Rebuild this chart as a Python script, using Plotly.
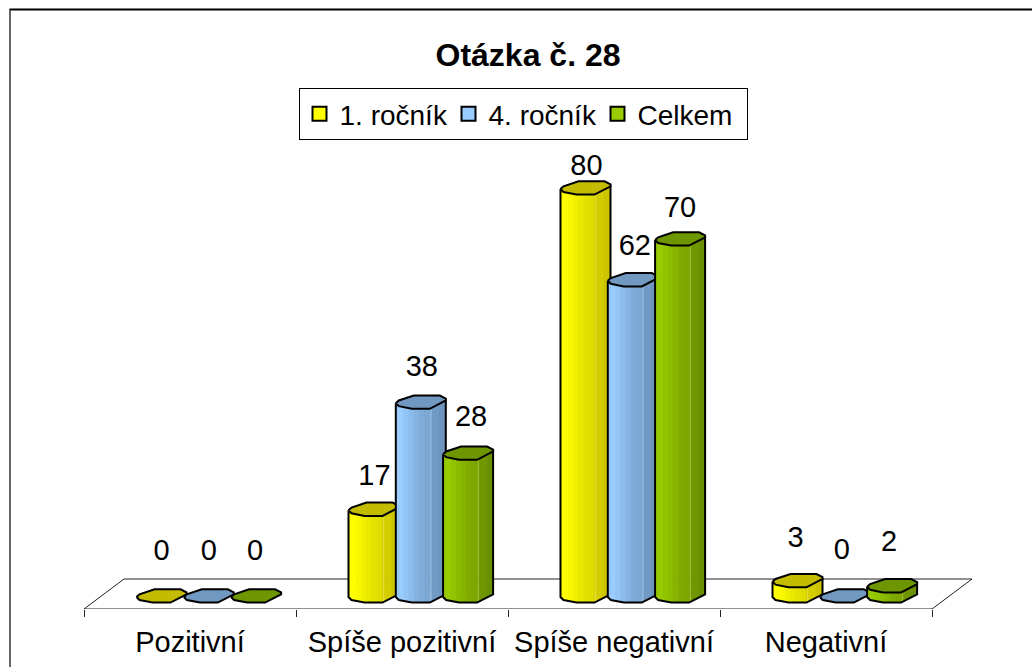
import numpy as np
import plotly.graph_objects as go

categories = ["Pozitivní", "Spíše pozitivní", "Spíše negativní", "Negativní"]
series_names = ["1. ročník", "4. ročník", "Celkem"]
rocnik_1 = [0, 17, 80, 3]
rocnik_4 = [0, 38, 62, 0]
celkem = [0, 28, 70, 2]
title_text = "Otázka č. 28"

series_values = [rocnik_1, rocnik_4, celkem]
legend_colors = ["#FFFF00", "#99CCFF", "#99CC00"]
top_colors = ["#C4BC00", "#7098C0", "#6E9600"]
strip_palettes = [
    ["#FFFF00", "#FFFF00", "#F8F800", "#F0F000", "#E8E800", "#E2E200", "#DEDE00", "#D6D000", "#E4E040", "#D2CC00", "#CCC400"],
    ["#99CCFF", "#99CCFF", "#92C4F4", "#8CBCEC", "#86B4E2", "#80ACDA", "#7CA8D4", "#78A2CC", "#A0C4E4", "#7099C4", "#6C94BC"],
    ["#99CC00", "#99CC00", "#92C400", "#8CBC00", "#86B400", "#80AC00", "#7CA800", "#78A000", "#A8C840", "#709600", "#6A9000"],
]
strip_cuts = np.array([0, 3, 8, 13, 18, 23, 28, 33.5, 35, 36, 43, 50])

# pixel scale of the plot frame
FIG_W, FIG_H = 1032, 667
L, R_PX, T, B_PX = 84, 972, 10, 609
PX_X = 212.0
PX_Y = 5.1
Y_ZERO_PX = 597
x_range = [0, (R_PX - L) / PX_X]
y_range = [-(B_PX - Y_ZERO_PX) / PX_Y, (Y_ZERO_PX - T) / PX_Y]

GROUP_START = 52.5
STEP = 47.3
front_x = [0, 3, 16, 34, 50]
front_y = [0, 3, 5.6, 5.6, -2.7]
top_hex_x = [0, 3, 16, 34, 50, 50, 44, 18, 3, 0]
top_hex_y = [0, 3, 5.6, 5.6, -2.7, -4.7, -7.7, -7.7, -2.7, 0]


def xu(i, j, px):
    return i + (GROUP_START + j * STEP + px) / PX_X


def front(px):
    return np.interp(px, front_x, front_y)


def extend(lst_x, lst_y, xs, ys):
    lst_x.extend(xs + [None])
    lst_y.extend(ys + [None])


def paper_x(px):
    return (px - L) / (R_PX - L)


def paper_y(px):
    return (B_PX - px) / (B_PX - T)


fig = go.Figure()

# base bars (data carriers) under the cylinder faces
for j, name in enumerate(series_names):
    fig.add_trace(go.Bar(
        x=[xu(i, j, 25) for i in range(4)], y=series_values[j], width=36 / PX_X,
        name=name, marker=dict(color=legend_colors[j], line=dict(width=0)),
        showlegend=False, hoverinfo="skip",
    ))
    fig.add_trace(go.Scatter(
        x=[None], y=[None], mode="markers", name=name,
        marker=dict(symbol="square", size=14, color=legend_colors[j], line=dict(color="black", width=2)),
        showlegend=True, hoverinfo="skip",
    ))

# floor
fx = [0, 40 / PX_X, (972 - L) / PX_X, 4, 0]
fy = [y_range[0], (Y_ZERO_PX - 579) / PX_Y, (Y_ZERO_PX - 579) / PX_Y, y_range[0], y_range[0]]
fig.add_trace(go.Scatter(x=fx, y=fy, mode="lines", line=dict(color="#222222", width=1),
                         showlegend=False, hoverinfo="skip", cliponaxis=False))

# cylinders
for j, vals in enumerate(series_values):
    for k, col in enumerate(strip_palettes[j]):
        a, b = strip_cuts[k], strip_cuts[k + 1]
        xs, ys = [], []
        for i, v in enumerate(vals):
            if v == 0:
                continue
            ya, yb = front(a) / PX_Y, front(b) / PX_Y
            extend(xs, ys,
                   [xu(i, j, a), xu(i, j, b), xu(i, j, b), xu(i, j, a), xu(i, j, a)],
                   [v - ya, v - yb, -yb, -ya, v - ya])
        if xs:
            fig.add_trace(go.Scatter(x=xs, y=ys, mode="lines", fill="toself", fillcolor=col,
                                     line=dict(color=col, width=0.6), showlegend=False,
                                     hoverinfo="skip", cliponaxis=False))
    ox, oy, tx, ty = [], [], [], []
    for i, v in enumerate(vals):
        if v > 0:
            outline_x = [xu(i, j, p) for p in [0] + front_x + [50, 0]]
            outline_y = [v] + [-q / PX_Y for q in front_y] + [v - front_y[-1] / PX_Y, v]
            extend(ox, oy, outline_x, outline_y)
        extend(tx, ty, [xu(i, j, p) for p in top_hex_x], [v - q / PX_Y for q in top_hex_y])
    if ox:
        fig.add_trace(go.Scatter(x=ox, y=oy, mode="lines", line=dict(color="black", width=2),
                                 showlegend=False, hoverinfo="skip", cliponaxis=False))
    fig.add_trace(go.Scatter(x=tx, y=ty, mode="lines", fill="toself", fillcolor=top_colors[j],
                             line=dict(color="black", width=2), showlegend=False,
                             hoverinfo="skip", cliponaxis=False))

# value labels (offset above each bar in px, centre offset from bar left)
label_dy = [[44, 33, 21, 42], [44, 34, 33, 45], [44, 35, 30, 43]]
label_dx = [[25, 26, 26, 23], [25, 26, 27, 22], [24, 28, 25, 22]]
for j, vals in enumerate(series_values):
    fig.add_trace(go.Scatter(
        x=[xu(i, j, label_dx[j][i]) for i in range(4)],
        y=[v + label_dy[j][i] / PX_Y for i, v in enumerate(vals)],
        text=[str(v) for v in vals], mode="text", textposition="middle center",
        textfont=dict(family="Liberation Sans", size=29, color="black"),
        showlegend=False, hoverinfo="skip", cliponaxis=False,
    ))

fig.update_layout(
    width=FIG_W, height=FIG_H,
    margin=dict(l=L, r=FIG_W - R_PX, t=T, b=FIG_H - B_PX, pad=0, autoexpand=False),
    paper_bgcolor="white", plot_bgcolor="white",
    barmode="overlay", showlegend=True,
    font=dict(family="Liberation Sans", color="black", size=28),
    title=dict(text="<b>%s</b>" % title_text, x=528 / FIG_W, y=1 - 55 / FIG_H,
               xanchor="center", yanchor="middle",
               font=dict(family="Liberation Sans", size=32, color="black")),
    legend=dict(orientation="h", x=paper_x(523), xanchor="center",
                y=paper_y(88), yanchor="top",
                bgcolor="white", bordercolor="black", borderwidth=1,
                entrywidth=104, entrywidthmode="pixels",
                font=dict(family="Liberation Sans", size=28, color="black"),
                itemclick=False, itemdoubleclick=False),
    xaxis=dict(range=x_range, showgrid=False, zeroline=False, showline=False, automargin=False,
               tickmode="array", tickvals=[0.5, 1.5, 2.5, 3.5], ticktext=categories,
               ticks="outside", ticklen=7, tickcolor="rgba(0,0,0,0)",
               tickfont=dict(family="Liberation Sans", size=29, color="black"),
               minor=dict(tickmode="array", tickvals=[0, 1, 2, 3, 4], ticks="outside",
                          ticklen=7, tickcolor="#222222", tickwidth=1, showgrid=False)),
    yaxis=dict(range=y_range, visible=False),
    shapes=[
        dict(type="line", xref="paper", yref="paper",
             x0=paper_x(9.5), x1=paper_x(1040), y0=paper_y(9.5), y1=paper_y(9.5),
             line=dict(color="black", width=2)),
        dict(type="line", xref="paper", yref="paper",
             x0=paper_x(10), x1=paper_x(10), y0=paper_y(9.5), y1=paper_y(680),
             line=dict(color="#333333", width=1.5)),
    ],
)
fig.write_html("out.html", config={"displayModeBar": False},
               post_script="document.body.style.margin='0';document.documentElement.style.overflow='hidden';")
